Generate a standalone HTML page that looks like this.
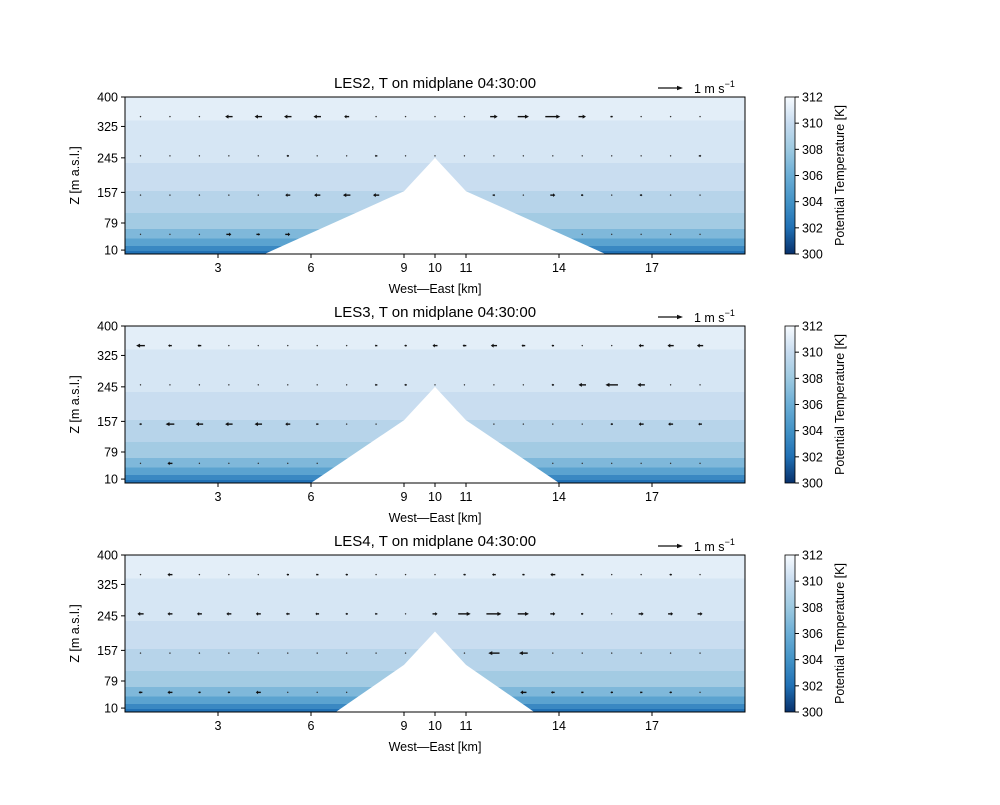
<!DOCTYPE html>
<html><head><meta charset="utf-8"><style>
body{margin:0;background:#fff}
svg text{font-family:"Liberation Sans","DejaVu Sans",sans-serif;fill:#000}
</style></head><body>
<svg id="fig" width="1000" height="800" xmlns="http://www.w3.org/2000/svg">
<defs>
<linearGradient id="bands" x1="0" y1="0" x2="0" y2="1">
<stop offset="0" stop-color="#e3eef8"/><stop offset="0.15" stop-color="#e3eef8"/>
<stop offset="0.15" stop-color="#d6e6f4"/><stop offset="0.42" stop-color="#d6e6f4"/>
<stop offset="0.42" stop-color="#c9ddf0"/><stop offset="0.6" stop-color="#c9ddf0"/>
<stop offset="0.6" stop-color="#b7d4ea"/><stop offset="0.74" stop-color="#b7d4ea"/>
<stop offset="0.74" stop-color="#a3cbe3"/><stop offset="0.84" stop-color="#a3cbe3"/>
<stop offset="0.84" stop-color="#7fb8da"/><stop offset="0.9" stop-color="#7fb8da"/>
<stop offset="0.9" stop-color="#5ba3d0"/><stop offset="0.95" stop-color="#5ba3d0"/>
<stop offset="0.95" stop-color="#3a88c2"/><stop offset="0.98" stop-color="#3a88c2"/>
<stop offset="0.98" stop-color="#2171b5"/><stop offset="1" stop-color="#2171b5"/>
</linearGradient>
<linearGradient id="cbar" x1="0" y1="1" x2="0" y2="0">
<stop offset="0" stop-color="#08306b"/><stop offset="0.17" stop-color="#2171b5"/>
<stop offset="0.33" stop-color="#4292c6"/><stop offset="0.5" stop-color="#6baed6"/>
<stop offset="0.67" stop-color="#9ecae1"/><stop offset="0.83" stop-color="#c6dbef"/>
<stop offset="1" stop-color="#f7fbff"/>
</linearGradient>
</defs>
</svg>
<script>
const xTicks=[3,6,9,10,11,14,17];
const yTicks=[10,79,157,245,325,400];
const cbTicks=[300,302,304,306,308,310,312];
const titles=["LES2, T on midplane 04:30:00","LES3, T on midplane 04:30:00","LES4, T on midplane 04:30:00"];
const rowHeights=[350,250,150,50];
const colKm=[0.5,1.45,2.4,3.35,4.3,5.25,6.2,7.15,8.1,9.05,10,10.95,11.9,12.85,13.8,14.75,15.7,16.65,17.6,18.55];
// terrain: km positions and heights (m)
const terrainX=[[4.5,9,10,11,15.5],[6,9,10,11,14],[6.8,9,10,11,13.2]];
const terrainH=[[0,160,245,160,0],[0,160,245,160,0],[0,120,205,120,0]];
// wind u (m/s) per panel per row (rows top->bottom)
const u1=[[0,0,-0.05,-0.3,-0.3,-0.3,-0.3,-0.2,0,-0.05,0,0,0.3,0.45,0.6,0.3,0.1,0,0,0],
[0,0,0,0,0,-0.1,0,0,-0.1,0,0.05,0,0,0,0.05,0,0,0,0,0.1],
[0,0,0,0,0,-0.2,-0.25,-0.3,-0.25,-0.2,0,0,0.1,0,0.2,0.1,0,0.1,0.05,0],
[0,0,0,0.2,0.15,0.2,0,0,0,0,0,0,0,0,0.2,0.05,0,0,0,0]];
const u2=[[-0.35,-0.15,-0.15,-0.05,0,0,0,0,-0.1,-0.1,-0.2,-0.15,-0.25,-0.15,-0.1,0,-0.05,-0.2,-0.25,-0.25],
[0,0.05,0.05,0.05,0,0,0,-0.05,-0.1,-0.1,0,0,0,0,-0.1,-0.3,-0.5,-0.3,0,0],
[-0.1,-0.35,-0.3,-0.3,-0.3,-0.2,-0.1,0,0,0,0,0,0,0,-0.05,0,-0.1,-0.2,-0.2,-0.15],
[0,-0.2,0,0,0,0,0,0,0,0,0,0,0,0,0.05,0.05,0.05,0,0.05,0]];
const u3=[[0,-0.2,0,0,0,-0.1,-0.1,-0.1,-0.05,0,0,-0.1,-0.15,-0.1,-0.2,-0.1,0,-0.05,-0.1,-0.05],
[-0.25,-0.2,-0.2,-0.2,-0.2,-0.15,-0.15,-0.1,-0.1,0,0.2,0.5,0.6,0.45,0.2,0.1,0,0.2,0.2,0.2],
[0,0,0,0,0,0,0,0,0,0,0,0,-0.45,-0.35,0,0,0,0,0,0],
[-0.15,-0.2,-0.1,-0.1,-0.2,-0.05,0,0,0,0,0,0,0,-0.25,-0.15,-0.1,-0.1,-0.1,-0.1,0]];
const winds=[u1,u2,u3];

const NS="http://www.w3.org/2000/svg";
const svg=document.getElementById('fig');
function mk(tag,attrs,parent,text){const e=document.createElementNS(NS,tag);for(const k in attrs)e.setAttribute(k,attrs[k]);if(text!==undefined)e.textContent=text;(parent||svg).appendChild(e);return e;}
const L=125,R=745,W=R-L,H=157;
const tops=[97,326,555];
const ARROW=25; // px per m/s
tops.forEach((T,p)=>{
  const X=km=>L+km/20*W;
  const Y=z=>T+H-z/400*H;
  const g=mk('g',{},svg);
  
  
  const bg=mk('rect',{x:L,y:T,width:W,height:H,fill:'url(#bands)'},g);
  
  
  winds[p].forEach((row,r)=>{
    row.forEach((u,c)=>{
      const x0=X(colKm[c]),y0=Y(rowHeights[r]);
      const len=u*ARROW;
      const a=mk('g',{},g);
      
      
      const d=Math.sign(len)||1;
      const al=Math.abs(len);
      if(al<1.5){mk('circle',{cx:x0,cy:y0,r:0.7,fill:'#333'},a);return;}
      const hl=Math.min(4,al*0.45),hw=Math.min(2,al*0.25+0.6);
      const xs=x0-len/2,xe=x0+len/2;
      mk('line',{x1:xs,y1:y0,x2:xe-d*hl*0.8,y2:y0,stroke:'#111','stroke-width':1.4},a);
      mk('polygon',{points:`${xe},${y0} ${xe-d*hl},${y0-hw} ${xe-d*hl},${y0+hw}`,fill:'#111'},a);
    });
  });
  let pts=terrainX[p].map((k,i)=>X(k)+','+Y(terrainH[p][i])).join(' ');
  const mt=mk('polygon',{points:pts,fill:'#fff'},g);
  
  
  const fr=mk('rect',{x:L,y:T,width:W,height:H,fill:'none',stroke:'#000','stroke-width':1},g);
  
  
  xTicks.forEach(k=>{mk('line',{x1:X(k),y1:T+H,x2:X(k),y2:T+H+4,stroke:'#000'},g);
    const t=mk('text',{x:X(k),y:T+H+18,'text-anchor':'middle','font-size':12.5},g,k);
    });
  yTicks.forEach(z=>{mk('line',{x1:L-4,y1:Y(z),x2:L,y2:Y(z),stroke:'#000'},g);
    const t=mk('text',{x:L-7,y:Y(z)+4.5,'text-anchor':'end','font-size':12.5},g,z);
    });
  const xt=mk('text',{x:435,y:T+H+39,'text-anchor':'middle','font-size':12.5},g,'West\u2014East [km]');
  
  const yt=mk('text',{x:0,y:0,'text-anchor':'middle','font-size':12.5,transform:`translate(79,${T+H/2}) rotate(-90)`},g,'Z [m a.s.l.]');
  
  const tt=mk('text',{x:435,y:T-9,'text-anchor':'middle','font-size':15},g,titles[p]);
  
  const qk=mk('g',{},g);
  
  mk('line',{x1:658,y1:T-9,x2:679,y2:T-9,stroke:'#111','stroke-width':1.3},qk);
  mk('polygon',{points:`${683},${T-9} ${677},${T-11.2} ${677},${T-6.8}`,fill:'#111'},qk);
  const kt=mk('text',{x:694,y:T-4,'font-size':12.5},qk,'1 m s');
  mk('tspan',{dy:-6,'font-size':9},kt,'\u22121');
  const cb=mk('g',{},g);
  
  mk('rect',{x:785,y:T,width:10,height:H,fill:'url(#cbar)',stroke:'#000','stroke-width':0.8},cb);
  cbTicks.forEach(v=>{const y=T+H-(v-300)/12*H;mk('line',{x1:795,y1:y,x2:799,y2:y,stroke:'#000'},cb);
    const t=mk('text',{x:802,y:y+4.5,'font-size':12.5},cb,v);
    });
  const cl=mk('text',{x:0,y:0,'text-anchor':'middle','font-size':12.5,transform:`translate(844,${T+H/2}) rotate(-90)`},cb,'Potential Temperature [K]');
  
});
</script>
</body></html>
